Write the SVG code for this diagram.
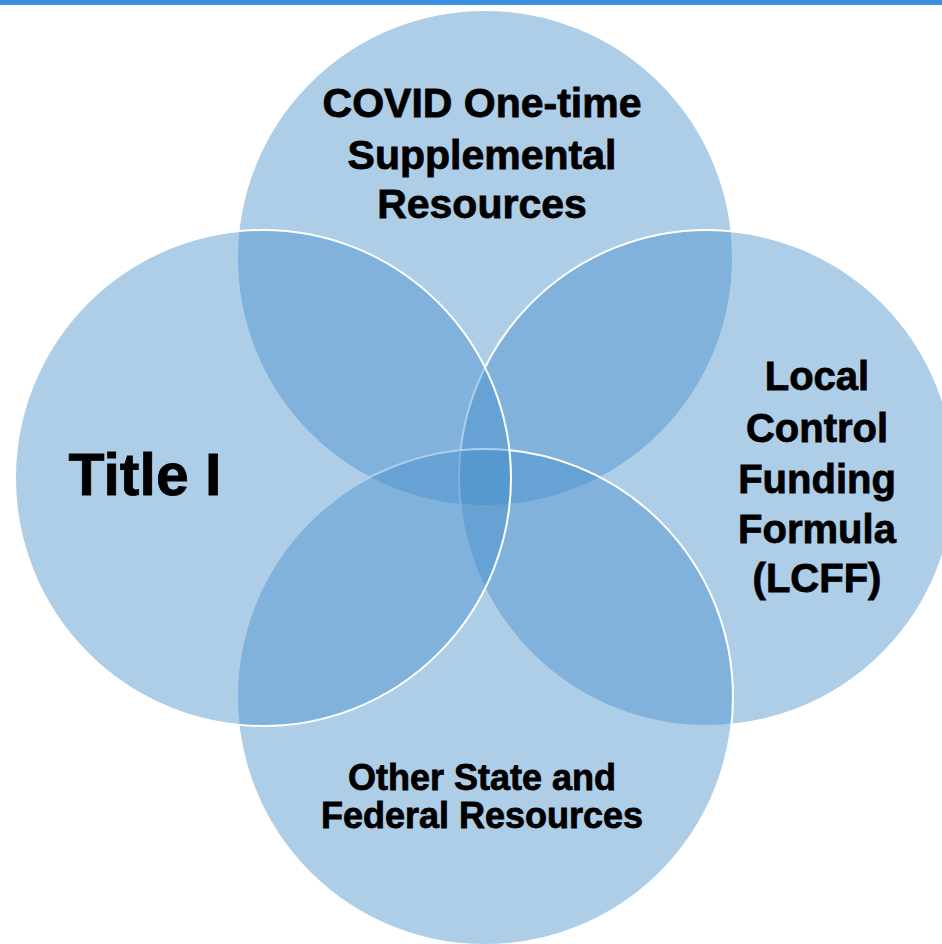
<svg xmlns="http://www.w3.org/2000/svg" width="942" height="944" viewBox="0 0 942 944">
<style>
.c{fill:#448dca;fill-opacity:0.43;stroke:#ffffff;stroke-width:2}
.t{font-family:"Liberation Sans",Arial,sans-serif;font-weight:bold;fill:#000;stroke:#000;stroke-width:0.8;text-anchor:middle}
</style>
<rect x="0" y="0" width="942" height="944" fill="#ffffff"/>
<rect x="0" y="0" width="942" height="5" fill="#3b8ee0"/>
<g id="covid">
<circle class="c" cx="485" cy="258" r="248"/>
</g>
<g id="lcff">
<circle class="c" cx="707" cy="478" r="248"/>
</g>
<g id="other">
<circle class="c" cx="485" cy="697" r="248"/>
</g>
<g id="title1">
<circle class="c" cx="263" cy="478" r="248"/>
</g>
<g id="connectors"/>
<g id="labels">
<text class="t" x="482" y="117" font-size="41">COVID One-time</text>
<text class="t" x="482" y="169" font-size="41">Supplemental</text>
<text class="t" x="482" y="218" font-size="41">Resources</text>
<text class="t" x="145" y="495" font-size="59">Title I</text>
<text class="t" x="817" y="390" font-size="40">Local</text>
<text class="t" x="817" y="442" font-size="40">Control</text>
<text class="t" x="817" y="493" font-size="40">Funding</text>
<text class="t" x="817" y="543" font-size="40">Formula</text>
<text class="t" x="817" y="592" font-size="40">(LCFF)</text>
<text class="t" x="482" y="790" font-size="36">Other State and</text>
<text class="t" x="482" y="828" font-size="36">Federal Resources</text>
</g>
</svg>
